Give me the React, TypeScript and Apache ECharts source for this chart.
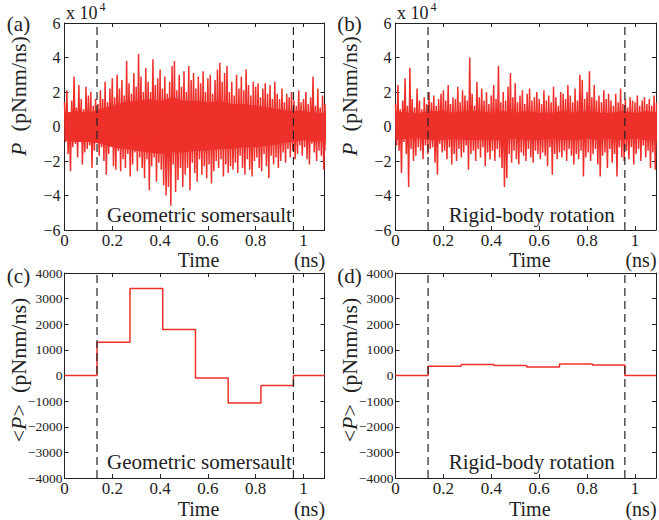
import React, { useEffect, useRef } from "react";
import * as echarts from "echarts";

// ---------- data ----------
// P(t) in units of 1e4 pNnm/ns, samples every 0.005 ns
const sampleStep = 0.005;
const powerSomersault = [
  1.4,-0.9,2.1,-1.6,0.8,-2.6,1.5,-1.2,2.9,-1.0,
  1.1,-1.8,2.4,-0.9,1.6,-2.2,1.0,-1.5,2.3,-1.3,
  1.8,-1.1,2.0,-2.4,1.2,-1.4,1.6,-0.8,1.3,-1.7,
  2.1,-1.2,1.6,-2.0,2.6,-2.8,1.4,-1.6,2.2,-1.0,
  2.8,-2.3,1.7,-2.5,3.0,-1.4,2.2,-2.6,2.7,-1.9,
  1.8,-2.4,3.8,-1.6,2.5,-2.9,1.9,-2.2,3.1,-1.5,
  2.3,-2.6,4.2,-1.8,2.9,-2.4,2.0,-3.0,3.4,-1.9,
  2.6,-3.7,2.0,-2.3,3.9,-1.8,2.4,-3.2,2.8,-2.1,
  3.3,-2.5,2.2,-3.4,2.9,-4.0,1.9,-3.5,2.6,-4.6,
  3.5,-2.2,3.8,-3.8,2.1,-3.1,3.0,-2.4,2.3,-3.5,
  3.2,-2.8,2.0,-2.4,3.5,-3.7,2.7,-2.1,3.1,-2.7,
  2.2,-3.2,2.9,-1.9,2.5,-2.8,3.2,-2.3,2.0,-3.0,
  2.8,-2.2,3.0,-3.3,1.9,-2.6,2.7,-2.0,3.3,-2.4,
  3.7,-1.9,2.6,-2.9,3.1,-2.2,3.5,-2.7,2.0,-2.3,
  2.6,-2.5,1.8,-2.1,3.0,-2.7,2.2,-1.7,2.9,-2.4,
  2.1,-2.8,3.3,-1.9,2.4,-2.5,1.8,-2.9,2.6,-2.0,
  2.3,-1.8,2.5,-2.4,1.7,-2.6,2.2,-1.6,2.5,-2.3,
  1.9,-3.0,2.4,-1.7,1.6,-2.2,2.6,-1.8,1.9,-2.4,
  1.6,-2.0,2.2,-1.5,1.4,-2.1,1.9,-1.3,1.7,-1.8,
  2.0,-1.4,1.5,-1.9,1.2,-1.6,2.1,-1.1,1.4,-1.7,
  1.6,-1.2,2.0,-1.9,1.3,-2.2,1.7,-1.0,2.9,-1.5,
  1.2,-2.0,2.2,-1.4,1.1,-1.7,1.8,-2.5,1.3,-1.4,
];
const powerRigid = [
  1.3,-1.1,2.4,-1.4,1.0,-2.7,1.5,-0.9,2.8,-1.6,
  1.2,-3.5,3.4,-1.3,1.6,-2.0,1.1,-1.7,2.2,-1.2,
  1.5,-1.4,1.0,-1.9,1.7,-1.1,1.3,-1.6,2.0,-1.3,
  1.4,-1.2,1.8,-2.1,1.2,-2.8,1.6,-1.0,1.9,-1.5,
  2.1,-1.4,1.5,-1.9,2.4,-1.2,1.3,-2.2,1.7,-1.6,
  1.6,-2.0,2.3,-1.3,1.4,-1.8,2.1,-1.5,1.8,-1.1,
  1.5,-2.5,4.0,-1.6,1.9,-1.4,1.2,-2.0,2.6,-1.3,
  1.7,-1.8,2.2,-1.2,1.5,-2.3,2.0,-1.5,1.3,-1.9,
  1.8,-1.4,2.4,-2.0,1.6,-1.3,3.5,-1.8,1.4,-2.4,
  2.0,-3.5,1.5,-3.0,2.3,-1.6,3.1,-2.1,1.7,-1.4,
  2.5,-1.9,1.4,-2.2,1.8,-1.5,2.1,-1.7,1.3,-2.0,
  1.9,-1.3,2.2,-1.8,1.5,-2.1,1.7,-1.4,2.0,-1.6,
  1.6,-1.9,1.3,-1.5,2.1,-1.7,1.5,-2.3,1.8,-1.2,
  1.4,-2.8,2.3,-1.6,1.7,-1.9,1.2,-1.5,2.0,-1.8,
  1.9,-1.4,1.6,-2.0,2.4,-1.3,1.8,-1.7,1.4,-2.2,
  2.2,-1.6,1.5,-1.9,3.0,-1.4,2.7,-2.9,1.6,-1.8,
  2.0,-1.5,3.2,-2.0,1.7,-1.6,2.4,-1.3,1.5,-2.2,
  1.8,-2.9,1.4,-1.7,2.1,-1.5,1.6,-2.4,1.9,-1.3,
  1.5,-2.1,1.2,-1.6,1.9,-2.9,1.4,-1.2,2.2,-1.8,
  1.3,-2.0,1.6,-1.4,1.1,-1.9,1.7,-1.2,1.5,-2.2,
  1.4,-1.6,1.8,-1.3,1.2,-2.0,1.5,-1.1,1.7,-1.8,
  1.3,-1.4,1.6,-2.4,1.2,-1.5,1.8,-2.5,1.4,-1.3,
];
// dense core of the trace (units 1e4), every 0.05 ns
const coreStep = 0.05;
const coreUpperSomersault = [0.8,0.9,0.8,1.0,1.2,1.4,1.5,1.6,1.5,1.7,1.5,1.5,1.4,1.5,1.3,1.3,1.2,1.1,1.0,0.9,0.9,0.8,0.8];
const coreLowerSomersault = [-0.8,-0.9,-0.9,-1.0,-1.2,-1.3,-1.4,-1.5,-1.6,-1.5,-1.5,-1.4,-1.4,-1.3,-1.3,-1.2,-1.2,-1.1,-1.0,-0.9,-0.8,-0.9,-0.8];
const coreUpperRigid = [0.9,0.8,0.8,0.9,0.9,0.8,0.9,0.9,0.8,0.9,0.8,0.9,0.8,0.8,0.9,0.8,0.9,0.8,0.8,0.9,0.8,0.9,0.8];
const coreLowerRigid = [-0.8,-0.7,-0.7,-0.8,-0.8,-0.7,-0.8,-0.8,-0.8,-0.8,-0.7,-0.8,-0.8,-0.7,-0.8,-0.8,-0.7,-0.8,-0.7,-0.8,-0.7,-0.8,-0.7];
// averaged <P> per time window (pNnm/ns)
const binEdges = [0, 0.136, 0.274, 0.411, 0.548, 0.685, 0.822, 0.958, 1.088];
const avgSomersault = [0, 1300, 3400, 1800, -100, -1070, -390, 0];
const avgRigid = [0, 365, 425, 390, 335, 450, 410, 0];
const dashedTimes = [0.136, 0.958];
const xTicks = [0, 0.2, 0.4, 0.6, 0.8, 1];
const xMax = 1.088;
const panelLabels = ["(a)", "(b)", "(c)", "(d)"];
const annotations = ["Geometric somersault", "Rigid-body rotation"];

// ---------- styling ----------
const FONT = "Liberation Serif";
const RED = "#ee302b";
const INK = "#222";

const grids = [
  { left: 64.5, top: 23, width: 260, height: 207 },
  { left: 395.5, top: 23, width: 260.5, height: 207 },
  { left: 64.5, top: 273, width: 260, height: 205 },
  { left: 395.5, top: 273, width: 260.5, height: 205 },
];

const minus = (v: number) => String(v).replace("-", "\u2212");

function buildOption() {
  const xAxis: any[] = [];
  const yAxis: any[] = [];
  const series: any[] = [];
  const graphic: any[] = [];

  grids.forEach((g, i) => {
    const top = i < 2;
    const yMin = top ? -6 : -4000;
    const yMaxV = top ? 6 : 4000;
    const yInt = top ? 2 : 1000;
    xAxis.push({
      type: "value", gridIndex: i, min: 0, max: xMax, interval: 0.2, position: "bottom",
      axisLine: { show: true, onZero: false, lineStyle: { color: INK, width: 1 } },
      axisTick: { show: true, inside: true, length: 4, lineStyle: { color: INK } },
      axisLabel: {
        show: true, margin: 2, color: INK, fontFamily: FONT, fontSize: 17, showMaxLabel: false,
        formatter: (v: number) => (xTicks.some((t) => Math.abs(t - v) < 1e-6) ? String(+v.toFixed(1)) : ""),
      },
      splitLine: { show: false },
    });
    xAxis.push({
      type: "value", gridIndex: i, min: 0, max: xMax, interval: 0.2, position: "top",
      axisLine: { show: true, onZero: false, lineStyle: { color: INK, width: 1 } },
      axisTick: { show: true, inside: true, length: 4, lineStyle: { color: INK } },
      axisLabel: { show: false }, splitLine: { show: false },
    });
    yAxis.push({
      type: "value", gridIndex: i, min: yMin, max: yMaxV, interval: yInt, position: "left",
      axisLine: { show: true, onZero: false, lineStyle: { color: INK, width: 1 } },
      axisTick: { show: true, inside: true, length: 4, lineStyle: { color: INK } },
      axisLabel: { show: true, margin: top ? 4 : 2, color: INK, fontFamily: FONT, fontSize: top ? 16 : 13.5, formatter: (v: number) => minus(v) },
      splitLine: { show: false },
    });
    yAxis.push({
      type: "value", gridIndex: i, min: yMin, max: yMaxV, interval: yInt, position: "right",
      axisLine: { show: true, onZero: false, lineStyle: { color: INK, width: 1 } },
      axisTick: { show: true, inside: true, length: 4, lineStyle: { color: INK } },
      axisLabel: { show: false }, splitLine: { show: false },
    });

    if (top) {
      const vals = i === 0 ? powerSomersault : powerRigid;
      const up = i === 0 ? coreUpperSomersault : coreUpperRigid;
      const lo = i === 0 ? coreLowerSomersault : coreLowerRigid;
      [up, lo].forEach((arr) => {
        series.push({
          type: "line", xAxisIndex: 2 * i, yAxisIndex: 2 * i,
          data: arr.map((v, k) => [k * coreStep, v]),
          showSymbol: false, symbol: "none", silent: true, z: 1,
          lineStyle: { width: 0, color: RED }, areaStyle: { color: RED, opacity: 1 },
        });
      });
      series.push({
        type: "line", xAxisIndex: 2 * i, yAxisIndex: 2 * i,
        data: vals.map((v, k) => [k * sampleStep, v]),
        showSymbol: false, symbol: "none", silent: true, z: 2,
        lineStyle: { color: RED, width: 1.5 },
      });
    } else {
      const vals = i === 2 ? avgSomersault : avgRigid;
      const data: any[] = vals.map((v, k) => [binEdges[k], v]);
      data.push([binEdges[binEdges.length - 1], vals[vals.length - 1]]);
      series.push({
        type: "line", xAxisIndex: 2 * i, yAxisIndex: 2 * i, data, showSymbol: false, symbol: "none",
        step: "end", lineStyle: { color: RED, width: 1.5 }, silent: true, z: 2,
      });
    }
    dashedTimes.forEach((t) => {
      series.push({
        type: "line", xAxisIndex: 2 * i, yAxisIndex: 2 * i, data: [[t, yMin], [t, yMaxV]],
        showSymbol: false, symbol: "none", silent: true, z: 3,
        lineStyle: { color: INK, width: 1.2, type: [8, 5] },
      });
    });

    const cx = g.left + g.width / 2 + 5;
    const right = g.left + g.width;
    const titleY = top ? 259.5 : 508.5;
    graphic.push({
      type: "text", x: g.left - 46, y: top ? 24 : 275.5,
      style: { text: panelLabels[i], font: `21px '${FONT}'`, fill: INK, align: "center", verticalAlign: "middle" },
    });
    graphic.push({
      type: "text", x: g.left + g.width / 2 + 4, y: titleY,
      style: { text: "Time", font: `20px '${FONT}'`, fill: INK, align: "center", verticalAlign: "middle" },
    });
    graphic.push({
      type: "text", x: right - 15, y: titleY,
      style: { text: "(ns)", font: `20px '${FONT}'`, fill: INK, align: "center", verticalAlign: "middle" },
    });
    graphic.push({
      type: "text", x: cx + (i % 2 === 0 ? 0 : 1), y: top ? 215 : 462,
      style: { text: annotations[i % 2], font: `21px '${FONT}'`, fill: INK, align: "center", verticalAlign: "middle" },
    });
    graphic.push({
      type: "text", x: g.left - 46.5, y: top ? 96 : 370, rotation: Math.PI / 2,
      style: {
        text: top ? "{i|P}  (pNnm/ns)" : "<{i|P}>  (pNnm/ns)",
        font: `22px '${FONT}'`, fill: INK, align: "center", verticalAlign: "middle",
        rich: { i: { fontStyle: "italic", fontFamily: FONT, fontSize: 22, fill: INK } },
      },
    });
    if (top) {
      graphic.push({
        type: "text", x: g.left + 1.5, y: 22,
        style: { text: "x 10", font: `18px '${FONT}'`, fill: INK, align: "left", verticalAlign: "bottom" },
      });
      graphic.push({
        type: "text", x: g.left + 35, y: 13,
        style: { text: "4", font: `12px '${FONT}'`, fill: INK, align: "left", verticalAlign: "bottom" },
      });
    }
  });

  return {
    animation: false,
    backgroundColor: "#fff",
    grid: grids.map((g) => ({ ...g, show: false, containLabel: false })),
    xAxis, yAxis, series, graphic,
  };
}

export default function App() {
  const ref = useRef<HTMLDivElement>(null);
  useEffect(() => {
    document.body.style.margin = "0";
    if (!ref.current) return;
    const chart = echarts.init(ref.current, undefined, { renderer: "svg" });
    chart.setOption(buildOption() as any);
    return () => chart.dispose();
  }, []);
  return <div ref={ref} style={{ width: 659, height: 520 }} />;
}
